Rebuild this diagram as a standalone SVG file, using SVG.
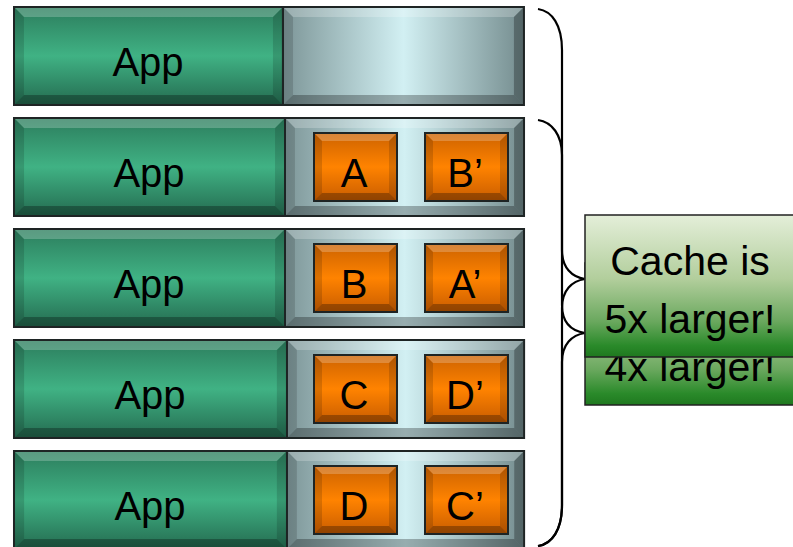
<svg xmlns="http://www.w3.org/2000/svg" xmlns:xlink="http://www.w3.org/1999/xlink" width="793" height="547" viewBox="0 0 793 547">
  <style>
    .lbl { font-family: "Liberation Sans", Arial, sans-serif; font-size: 40px; fill: #000; text-anchor: middle; }
    .big { font-size: 41px; }
    .edge { fill: none; stroke: #1e2424; stroke-width: 2; }
    .hi { fill: #fff; opacity: 0.22; }
    .sh { fill: #000; opacity: 0.28; }
    .sd { fill: #000; opacity: 0.14; }
    .brace { fill: none; stroke: #000; stroke-width: 2.2; }
    .note { stroke: #222; stroke-width: 1.5; }
  </style>
  <defs>
    <linearGradient id="gApp" x1="0" y1="0" x2="0" y2="1">
      <stop offset="0" stop-color="#2c7d5d"/>
      <stop offset="0.5" stop-color="#40b284"/>
      <stop offset="1" stop-color="#246b50"/>
    </linearGradient>
    <linearGradient id="gMem" x1="0" y1="0" x2="1" y2="0">
      <stop offset="0" stop-color="#7d9698"/>
      <stop offset="0.5" stop-color="#d2f0f3"/>
      <stop offset="1" stop-color="#748c8e"/>
    </linearGradient>
    <linearGradient id="gBlk" x1="0" y1="0" x2="0" y2="1">
      <stop offset="0" stop-color="#cc6200"/>
      <stop offset="0.5" stop-color="#ff8300"/>
      <stop offset="1" stop-color="#c85c00"/>
    </linearGradient>
    <linearGradient id="gNote" x1="0" y1="0" x2="0" y2="1">
      <stop offset="0" stop-color="#e4eed9"/>
      <stop offset="0.45" stop-color="#b2ce9c"/>
      <stop offset="0.75" stop-color="#6aa85e"/>
      <stop offset="0.92" stop-color="#2a8a2a"/>
      <stop offset="1" stop-color="#1f781f"/>
    </linearGradient>

    <!-- bevelled app block, 270 x 98 -->
    <g id="app">
      <rect width="270" height="98" fill="url(#gApp)"/>
      <polygon class="hi" points="0,0 270,0 260,10 10,10"/>
      <polygon class="sh" points="0,98 270,98 260,88 10,88"/>
      <polygon class="sd" points="0,0 10,10 10,88 0,98"/>
      <polygon class="sd" points="270,0 260,10 260,88 270,98"/>
      <rect class="edge" width="270" height="98"/>
    </g>
    <!-- bevelled cache area, 240 x 98 -->
    <g id="mem">
      <rect width="240" height="98" fill="url(#gMem)"/>
      <polygon class="hi" points="0,0 240,0 230,10 10,10"/>
      <polygon class="sh" points="0,98 240,98 230,88 10,88"/>
      <polygon class="sd" points="0,0 10,10 10,88 0,98"/>
      <polygon class="sh" points="240,0 230,10 230,88 240,98"/>
      <rect class="edge" width="240" height="98"/>
    </g>
    <!-- bevelled cache block, 83 x 68 -->
    <g id="blk">
      <rect width="83" height="68" fill="url(#gBlk)"/>
      <polygon class="hi" points="0,0 83,0 75,8 8,8"/>
      <polygon class="sh" points="0,68 83,68 75,60 8,60"/>
      <polygon class="sd" points="0,0 8,8 8,60 0,68"/>
      <polygon class="sd" points="83,0 75,8 75,60 83,68"/>
      <rect class="edge" width="83" height="68"/>
    </g>
  </defs>

  <rect width="793" height="547" fill="#fff"/>

  <!-- row 1: app with empty cache -->
  <g id="row1">
    <use xlink:href="#app" transform="translate(14,7) scale(0.996,1)"/>
    <use xlink:href="#mem" transform="translate(283,7) scale(1.004,1)"/>
    <text class="lbl" x="148" y="76">App</text>
  </g>

  <!-- row 2 -->
  <g id="row2">
    <use xlink:href="#app" transform="translate(14,118) scale(1.004,1)"/>
    <use xlink:href="#mem" transform="translate(285,118) scale(0.996,1)"/>
    <text class="lbl" x="149" y="187">App</text>
    <g id="blkA"><use xlink:href="#blk" x="314" y="133"/><text class="lbl" x="354" y="187">A</text></g>
    <g id="blkB2"><use xlink:href="#blk" x="425" y="133"/><text class="lbl" x="465" y="187">B’</text></g>
  </g>

  <!-- row 3 -->
  <g id="row3">
    <use xlink:href="#app" transform="translate(14,229) scale(1.004,1)"/>
    <use xlink:href="#mem" transform="translate(285,229) scale(0.996,1)"/>
    <text class="lbl" x="149" y="298">App</text>
    <g id="blkB"><use xlink:href="#blk" x="314" y="244"/><text class="lbl" x="354" y="298">B</text></g>
    <g id="blkA2"><use xlink:href="#blk" x="425" y="244"/><text class="lbl" x="465" y="298">A’</text></g>
  </g>

  <!-- row 4 -->
  <g id="row4">
    <use xlink:href="#app" transform="translate(14,340) scale(1.011,1)"/>
    <use xlink:href="#mem" transform="translate(287,340) scale(0.988,1)"/>
    <text class="lbl" x="150" y="409">App</text>
    <g id="blkC"><use xlink:href="#blk" x="314" y="355"/><text class="lbl" x="354" y="409">C</text></g>
    <g id="blkD2"><use xlink:href="#blk" x="425" y="355"/><text class="lbl" x="465" y="409">D’</text></g>
  </g>

  <!-- row 5 -->
  <g id="row5">
    <use xlink:href="#app" transform="translate(14,451) scale(1.011,1)"/>
    <use xlink:href="#mem" transform="translate(287,451) scale(0.988,1)"/>
    <text class="lbl" x="150" y="520">App</text>
    <g id="blkD"><use xlink:href="#blk" x="314" y="466"/><text class="lbl" x="354" y="520">D</text></g>
    <g id="blkC2"><use xlink:href="#blk" x="425" y="466"/><text class="lbl" x="465" y="520">C’</text></g>
  </g>

  <!-- braces grouping the rows -->
  <g id="connectors">
    <path class="brace" d="M538,9 C552,11 562,25 562,50 L562,250 C562,268 572,277 585,279 C572,281 562,290 562,308 L562,505 C562,530 552,544 538,546"/>
    <path class="brace" d="M538,120 C552,122 562,135 562,155 L562,305 C562,323 572,331 585,333 C572,335 562,344 562,362 L562,505 C562,530 552,544 538,546"/>
  </g>

  <!-- callouts: the older note sits behind the newer one -->
  <g id="note4x">
    <rect class="note" x="585" y="263" width="212" height="142" fill="url(#gNote)"/>
    <text class="lbl big" x="690" y="381">4x larger!</text>
  </g>
  <g id="note5x">
    <rect class="note" x="585" y="215" width="212" height="142" fill="url(#gNote)"/>
    <text class="lbl big" x="690" y="275">Cache is</text>
    <text class="lbl big" x="690" y="333">5x larger!</text>
  </g>
</svg>
